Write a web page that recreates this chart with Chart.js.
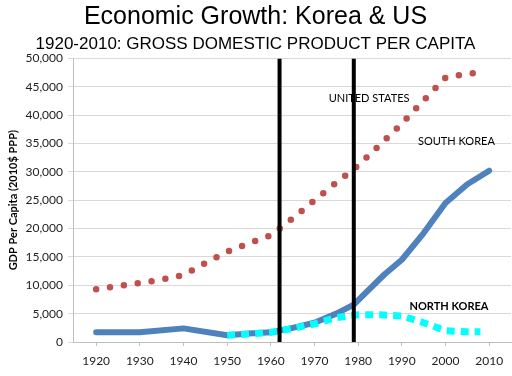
<!DOCTYPE html>
<html>
<head>
<meta charset="utf-8">
<script src="https://cdn.jsdelivr.net/npm/chart.js@4.4.0/dist/chart.umd.min.js"></script>
<style>
  html, body { margin: 0; padding: 0; background: #fff; }
  #wrap { width: 512px; height: 376px; }
</style>
</head>
<body>
<div id="wrap"><canvas id="gdpChart" width="512" height="376"></canvas></div>
<script>
// decade labels on the x axis
const yearTicks = [1920, 1930, 1940, 1950, 1960, 1970, 1980, 1990, 2000, 2010];

// United States, GDP per capita (2010$ PPP)
const usYears = [1920, 1925, 1930, 1935, 1940, 1945, 1950, 1955, 1960, 1965, 1970, 1975, 1980, 1985, 1990, 1995, 2000, 2005, 2008];
const usValues = [9300, 9850, 10400, 11000, 11800, 13900, 15900, 17400, 18800, 21800, 25000, 28100, 31100, 34800, 38500, 42600, 46600, 47300, 47500];

// South Korea
const skYears = [1920, 1930, 1940, 1950, 1955, 1960, 1965, 1970, 1975, 1979, 1982, 1986, 1990, 1995, 2000, 2005, 2010];
const skValues = [1700, 1700, 2400, 1200, 1500, 1700, 2500, 3400, 5000, 6600, 8900, 11900, 14500, 19200, 24500, 27800, 30200];

// North Korea
const nkYears = [1950, 1955, 1960, 1965, 1970, 1975, 1980, 1985, 1990, 1995, 2000, 2005, 2008];
const nkValues = [1200, 1400, 1700, 2400, 3200, 4300, 4800, 4800, 4600, 3400, 2000, 1800, 1800];

// marker years (vertical black lines)
const markerYears = [1962, 1979];

const toPoints = (xs, ys) => xs.map((x, i) => ({ x: x, y: ys[i] }));

// series name labels placed in data space
const seriesLabels = [
  { text: 'UNITED STATES', x: 1982.5, y: 42900, bold: false },
  { text: 'SOUTH KOREA', x: 2002.5, y: 35300, bold: false },
  { text: 'NORTH KOREA', x: 2000.8, y: 6350, bold: true }
];

const labelPlugin = {
  id: 'seriesLabels',
  afterDatasetsDraw(chart) {
    const ctx = chart.ctx;
    const xs = chart.scales.x, ys = chart.scales.y;
    ctx.save();
    ctx.fillStyle = '#000';
    ctx.textAlign = 'center';
    ctx.textBaseline = 'middle';
    seriesLabels.forEach(l => {
      ctx.font = (l.bold ? 'bold ' : '') + '11px Lato';
      ctx.fillText(l.text, xs.getPixelForValue(l.x), ys.getPixelForValue(l.y));
    });
    ctx.restore();
  }
};

const datasets = markerYears.map(yr => ({
  label: 'marker ' + yr,
  data: [{ x: yr, y: 0 }, { x: yr, y: 50000 }],
  borderColor: '#000',
  borderWidth: 4,
  pointRadius: 0
}));

datasets.push({
  label: 'United States',
  data: toPoints(usYears, usValues),
  borderColor: '#C0504D',
  borderWidth: 6.5,
  borderDash: [0, 14],
  borderCapStyle: 'round',
  pointRadius: 0,
  tension: 0
});
datasets.push({
  label: 'North Korea',
  data: toPoints(nkYears, nkValues),
  borderColor: '#00FFFF',
  borderWidth: 7,
  borderDash: [8, 6],
  borderCapStyle: 'butt',
  pointRadius: 0,
  tension: 0
});
datasets.push({
  label: 'South Korea',
  data: toPoints(skYears, skValues),
  borderColor: '#4F81BD',
  borderWidth: 6,
  borderCapStyle: 'round',
  borderJoinStyle: 'round',
  pointRadius: 0,
  tension: 0
});

new Chart(document.getElementById('gdpChart'), {
  type: 'line',
  data: { datasets: datasets },
  plugins: [labelPlugin],
  options: {
    responsive: false,
    animation: false,
    layout: { padding: { left: 0, right: 1, bottom: 0, top: 0 } },
    plugins: {
      legend: { display: false },
      tooltip: { enabled: false },
      title: {
        display: true,
        text: 'Economic Growth: Korea & US',
        color: '#000',
        font: { family: 'Liberation Sans', size: 25, weight: 'normal', lineHeight: 1.2 },
        padding: { top: 2, bottom: 0 }
      },
      subtitle: {
        display: true,
        text: '1920-2010: GROSS DOMESTIC PRODUCT PER CAPITA',
        color: '#000',
        font: { family: 'Liberation Sans', size: 17, lineHeight: 1.2 },
        padding: { top: 2, bottom: 4 }
      }
    },
    scales: {
      x: {
        type: 'linear',
        min: 1914.7,
        max: 2015,
        afterBuildTicks: axis => { axis.ticks = yearTicks.map(v => ({ value: v })); },
        afterFit: axis => { axis.height = 34; },
        grid: { drawOnChartArea: false, color: '#bfbfbf', tickLength: 4 },
        border: { color: '#bfbfbf' },
        ticks: {
          color: '#222',
          font: { family: 'Lato', size: 12 },
          padding: 8,
          maxRotation: 0,
          callback: v => String(v)
        }
      },
      y: {
        min: 0,
        max: 50000,
        afterFit: axis => { axis.width = 73; },
        grid: { color: '#d9d9d9', tickLength: 5 },
        border: { color: '#bfbfbf' },
        ticks: {
          stepSize: 5000,
          color: '#222',
          font: { family: 'Lato', size: 12 },
          padding: 5,
          callback: v => v.toLocaleString('en-US')
        },
        title: {
          display: true,
          text: 'GDP Per Capita (2010$ PPP)',
          color: '#000',
          font: { family: 'Lato', size: 11, weight: 'bold' },
          padding: { top: 7, bottom: 2 }
        }
      }
    }
  }
});
</script>
</body>
</html>
